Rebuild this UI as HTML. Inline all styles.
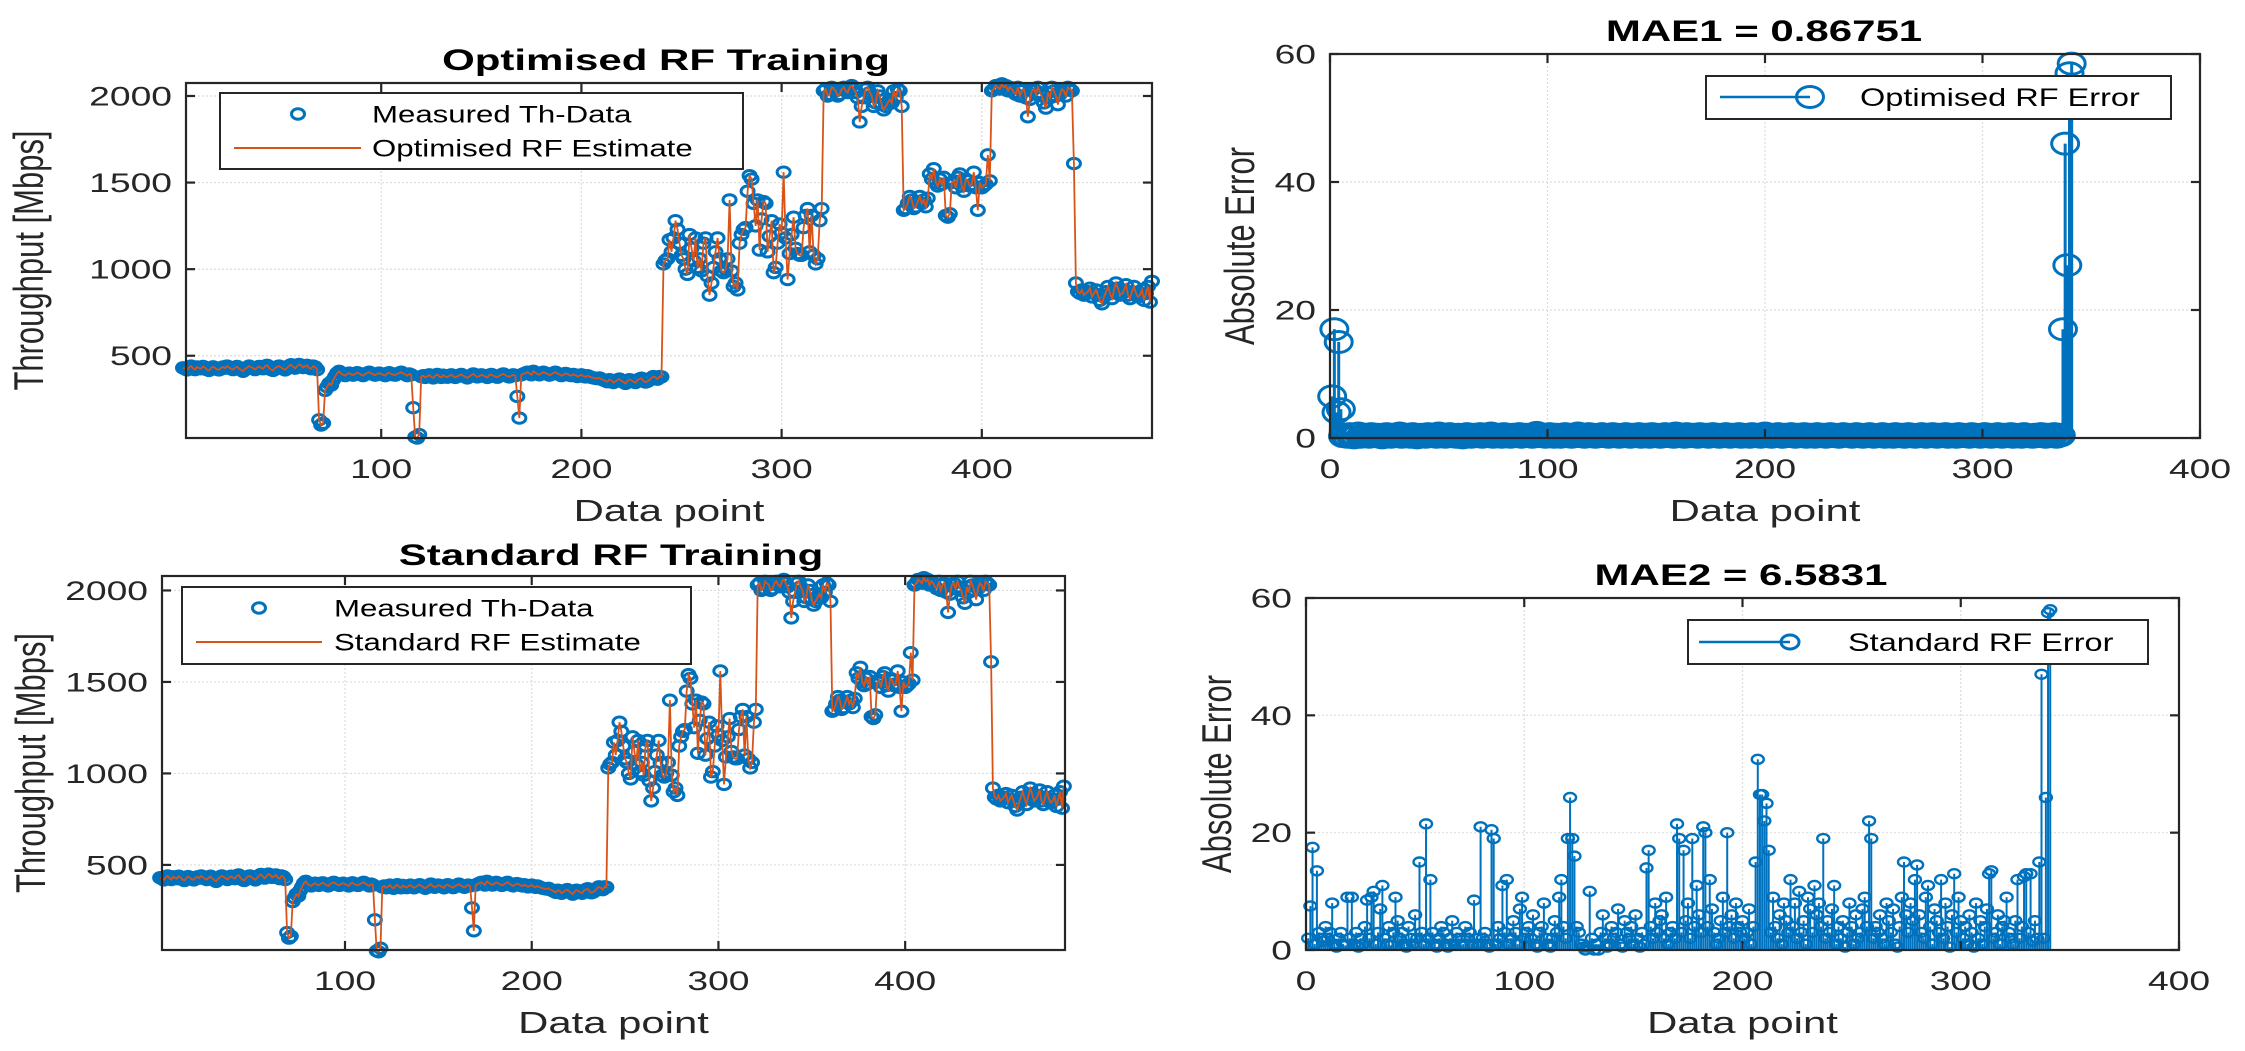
<!DOCTYPE html>
<html><head><meta charset="utf-8"><style>
html,body{margin:0;padding:0;background:#fff}
svg{display:block}
text{font-family:"Liberation Sans",Arial,sans-serif}
</style></head><body>
<svg id="fig" width="2245" height="1051" viewBox="0 0 2245 1051" xmlns="http://www.w3.org/2000/svg">
<rect width="2245" height="1051" fill="#fff"/>
</svg>
<script>
// ---- data ----
const measured = [
430,425,418,432,440,428,420,435,430,425,438,432,420,415,428,436,430,422,418,430,
435,428,440,432,425,420,430,438,426,418,410,425,432,440,435,428,420,432,438,430,
425,440,445,430,420,415,428,436,440,432,425,418,430,442,448,436,428,440,450,445,
432,438,445,430,425,440,435,420,
130,100,110,
300,320,340,330,360,380,400,410,395,
390,385,395,400,392,388,396,402,398,390,385,395,400,405,398,392,388,396,400,395,390,385,398,402,395,390,388,396,400,405,398,392,385,395,390,
200,30,25,45,380,
385,375,380,390,378,372,385,392,380,375,388,380,376,385,390,382,375,380,388,392,385,378,372,380,388,395,385,378,382,390,386,380,375,388,392,385,380,376,384,390,395,388,382,378,385,390,
385,265,140,390,
395,400,405,398,390,410,402,395,390,398,405,400,395,388,392,400,405,398,392,385,390,398,395,388,385,392,388,380,385,390,382,378,385,380,375,372,370,368,372,365,
360,355,350,362,358,345,352,360,365,355,348,340,355,362,358,350,345,360,365,370,355,348,352,360,372,380,375,365,380,378,
1030,1050,1060,1170,1100,1180,1280,1230,1150,1080,
1060,1000,970,1200,1120,1050,1180,1010,1060,990,
1150,1180,960,850,920,1010,1100,1180,1060,990,
980,1000,1060,1400,990,900,920,880,1150,1200,
1230,1240,1450,1540,1520,1380,1250,1400,1110,1290,
1390,1380,1100,1190,1280,980,1010,1150,1260,1210,
1560,1180,940,1090,1200,1300,1120,1090,1080,1080,
1240,1310,1350,1100,1310,1080,1030,1060,1280,1350,
2030,2040,2000,2010,2050,2040,2030,2000,2010,2040,2050,2030,2020,2050,2060,2040,2020,1990,1850,1940,1990,2040,2050,2020,2000,1940,1960,2030,2000,1950,1920,1940,1960,1980,1960,2030,1990,2040,2030,1940,
1340,1350,1380,1420,1400,1350,1360,1390,1420,1380,1400,1360,1410,1550,1520,1580,1500,1480,1520,1490,1530,1310,1300,1320,1500,1510,1470,1530,1550,1480,1450,1520,1510,1480,1490,1560,1470,1340,1500,1470,1480,1490,1660,1510,
2030,2040,2060,2050,2040,2070,2050,2060,2030,2050,2040,2020,2010,2050,2000,2030,2040,1990,1880,1980,2030,2040,2010,2050,2020,2000,1960,1930,2020,1990,2050,2030,2000,1950,2010,2040,2030,2000,2050,2040,2030,
1610,
920,870,860,880,850,860,870,890,840,860,880,850,820,800,840,870,900,860,830,880,920,890,850,860,880,910,850,830,870,900,860,840,850,880,820,860,900,810,930
];
const optErr = [
6.5,17,4,15,4.5,
0.3,0.5,0.2,0.6,0.4,0.1,0.3,0.7,0.2,0.4,0.5,0.3,0.2,0.6,0.4,0.3,0.5,0.2,0.1,0.4,
0.6,0.3,0.2,0.5,0.4,0.3,0.7,0.2,0.3,0.5,0.4,0.2,0.6,0.3,0.1,0.4,0.5,0.3,0.2,0.6,
0.4,0.3,0.5,0.2,0.7,0.4,0.3,0.2,0.5,0.6,0.3,0.4,0.2,0.5,0.3,0.1,0.4,0.6,0.3,0.2,
0.5,0.4,0.3,0.6,0.2,0.4,0.5,0.3,0.7,0.2,0.4,0.3,0.5,0.2,0.6,0.3,0.4,0.2,0.5,0.3,
0.4,0.6,0.2,0.3,0.5,0.4,0.3,0.2,0.6,0.8,0.3,0.4,0.5,0.2,0.3,0.6,0.4,0.2,0.5,0.3,
0.2,0.4,0.6,0.3,0.5,0.2,0.4,0.3,0.7,0.5,0.3,0.2,0.4,0.6,0.3,0.5,0.2,0.4,0.3,0.6,
0.5,0.3,0.2,0.4,0.6,0.3,0.5,0.2,0.4,0.3,0.6,0.4,0.2,0.5,0.3,0.4,0.6,0.2,0.3,0.5,
0.4,0.2,0.6,0.3,0.5,0.4,0.2,0.3,0.6,0.5,0.3,0.4,0.2,0.7,0.3,0.5,0.4,0.2,0.6,0.3,
0.3,0.5,0.4,0.2,0.6,0.3,0.4,0.5,0.2,0.3,0.6,0.4,0.5,0.2,0.3,0.4,0.6,0.3,0.2,0.5,
0.4,0.3,0.6,0.2,0.5,0.3,0.4,0.2,0.6,0.4,0.3,0.5,0.2,0.4,0.7,0.3,0.5,0.2,0.4,0.3,
0.6,0.4,0.2,0.5,0.3,0.4,0.6,0.3,0.2,0.5,0.4,0.3,0.6,0.2,0.4,0.5,0.3,0.2,0.6,0.4,
0.3,0.5,0.2,0.4,0.6,0.3,0.5,0.4,0.2,0.3,0.6,0.4,0.5,0.3,0.2,0.4,0.6,0.3,0.5,0.2,
0.4,0.3,0.6,0.5,0.2,0.4,0.3,0.5,0.6,0.2,0.4,0.3,0.5,0.2,0.6,0.4,0.3,0.5,0.2,0.4,
0.6,0.3,0.5,0.2,0.4,0.3,0.6,0.4,0.2,0.5,0.3,0.6,0.4,0.2,0.5,0.3,0.4,0.6,0.2,0.3,
0.5,0.4,0.2,0.6,0.3,0.5,0.4,0.3,0.2,0.6,0.4,0.5,0.3,0.2,0.4,0.6,0.3,0.5,0.2,0.4,
0.3,0.6,0.4,0.2,0.5,0.3,0.4,0.6,0.2,0.5,0.3,0.4,0.2,0.6,0.5,0.3,0.4,0.2,0.5,0.3,
0.4,0.6,0.3,0.2,0.5,0.4,0.3,0.6,0.2,0.5,0.4,
17,46,27,57,58.5
];
const stdErr = [
2,7.5,17.5,1,13.5,3,2,1.5,4,2,3,8,1,0.5,2,3,1,0.8,9,2,
9,1,3,0.5,2,1,4,8.5,2,9,10,1,3,7,11,2,1,4,0.8,3,
9,5,2,3,1,0.5,4,2,1,6,2,15,3,1,21.5,2,12,3,1,0.5,
2,4,3,1,0.5,2,5,1,3,2,0.8,1,4,2,3,1,8.5,2,1,21,
2,3,1,0.5,20.5,19,1,4,2,11,3,12,1,2,5,3,1,7,9,2,
3,4,2,6,1,0.5,3,4,8,2,1,0.5,2,5,3,9,12,4,2,19,
26,19,16,4,3,1,0.5,0,0.5,10,2,0,1,0,3,6,2,0.5,1,4,
2,3,7,1,0.5,5,3,2,4,1,6,2,0.5,3,1,14,17,4,2,8,
3,5,6,2,9,1,3,4,2,21.5,19,3,17,5,8,2,19,4,11,6,
3,21,20,4,12,7,3,1,2,5,9,3,20,4,6,2,8,4,3,5,
2,3,7,1,4,15,32.5,26.5,26.5,22,25,17,3,9,4,2,6,1,8,5,
3,12,4,8,2,10,3,5,1,9,7,3,11,6,8,4,19,2,5,3,
7,11,1,4,2,5,0.5,3,8,4,1,6,2,3,7,9,4,22,19,2,
4,3,6,2,1,8,5,3,7,1,0.5,4,9,15,6,3,8,5,12,14.5,
6,3,2,9,11,4,1,7,5,3,12,2,8,4,0.5,6,13,3,9,5,
2,4,1,6,3,0.5,8,2,5,1,4,7,13,13.5,2,3,6,1,4,5,
9,3,2,1,5,12,2,4,12.5,13,3,13,1.5,5,2,15,47,2,26,57.5,
58
];
const leftXTicks = [100,200,300,400];
const leftYTicks = [500,1000,1500,2000];
const rightXTicks = [0,100,200,300,400];
const rightYTicks = [0,20,40,60];

// ---- drawing ----
const NS = 'http://www.w3.org/2000/svg';
const svg = document.getElementById('fig');
const BLUE = '#0072BD', ORANGE = '#D95319';
function el(tag, attrs, parent) {
  const e = document.createElementNS(NS, tag);
  for (const k in attrs) e.setAttribute(k, attrs[k]);
  (parent || svg).appendChild(e);
  return e;
}
function stext(parent, str, x, y, size, sx, anchor, weight, color, rot) {
  const g = el('g', {transform: `translate(${x},${y}) scale(${sx},1)` + (rot ? ' rotate(-90)' : '')}, parent);
  const t = el('text', {x: 0, y: 0, 'font-size': size, 'text-anchor': anchor, fill: color, 'font-weight': weight}, g);
  if (rot) t.setAttribute('dominant-baseline', 'central');
  t.textContent = str;
  return g;
}
function makeAxes(name, A, xt, yt, title, ylabel) {
  const g = el('g', {});
  
  
  A.sx = v => A.l + (v - A.xmin) / (A.xmax - A.xmin) * (A.r - A.l);
  A.sy = v => A.b - (v - A.ymin) / (A.ymax - A.ymin) * (A.b - A.t);
  el('rect', {x: A.l, y: A.t, width: A.r - A.l, height: A.b - A.t, fill: '#fff'}, g);
  const grid = el('g', {stroke: '#dcdcdc', 'stroke-width': 1.2, 'stroke-dasharray': '2,2'}, g);
  
  
  xt.forEach(v => { const x = A.sx(v); if (x > A.l + 1 && x < A.r - 1) el('line', {x1: x, x2: x, y1: A.t, y2: A.b}, grid); });
  yt.forEach(v => { const y = A.sy(v); if (y > A.t + 1 && y < A.b - 1) el('line', {x1: A.l, x2: A.r, y1: y, y2: y}, grid); });
  const xl = el('g', {}, g);
  
  
  xt.forEach(v => stext(xl, String(v), A.sx(v), A.b + 40, 27, 1.38, 'middle', 'normal', '#262626'));
  const yl = el('g', {}, g);
  
  
  yt.forEach(v => stext(yl, String(v), A.l - 14, A.sy(v) + 9.5, 27, 1.38, 'end', 'normal', '#262626'));
  const xlab = stext(g, 'Data point', (A.l + A.r) / 2, A.b + 83, 31, 1.35, 'middle', 'normal', '#262626');
  
  
  const ylab = stext(g, ylabel, A.ylx, (A.t + A.b) / 2, 31, 1.35, 'middle', 'normal', '#262626', true);
  
  
  const tt = stext(g, title, A.tx, A.ty, 30, 1.4, 'middle', 'bold', '#000');
  
  
  const plot = el('g', {}, g);
  
  
  A.plot = plot;
  A.g = g;
  return A;
}
function finishAxes(A, xt, yt) {
  const fr = el('g', {stroke: '#262626', 'stroke-width': 2.2, fill: 'none'}, A.g);
  
  
  el('rect', {x: A.l, y: A.t, width: A.r - A.l, height: A.b - A.t}, fr);
  xt.forEach(v => { const x = A.sx(v); el('line', {x1: x, x2: x, y1: A.b, y2: A.b - 9}, fr); el('line', {x1: x, x2: x, y1: A.t, y2: A.t + 9}, fr); });
  yt.forEach(v => { const y = A.sy(v); el('line', {x1: A.l, x2: A.l + 9, y1: y, y2: y}, fr); el('line', {x1: A.r, x2: A.r - 9, y1: y, y2: y}, fr); });
}
function clip(A, id) {
  const cp = el('clipPath', {id: id});
  el('rect', {x: A.l - 12, y: A.t - 12, width: A.r - A.l + 24, height: A.b - A.t + 24}, cp);
  A.plot.setAttribute('clip-path', `url(#${id})`);
}
function drawTrain(A, estName) {
  clip(A, 'c' + Math.round(A.l));
  const mk = el('g', {fill: 'none', stroke: BLUE, 'stroke-width': 3}, A.plot);
  
  
  measured.forEach((v, i) => {
    const c = el('ellipse', {cx: A.sx(i + 1), cy: A.sy(v), rx: 6.5, ry: 5.2}, mk);
    
    
  });
  const pts = measured.map((v, i) => A.sx(i + 1).toFixed(1) + ',' + A.sy(v).toFixed(1)).join(' ');
  const ln = el('polyline', {points: pts, fill: 'none', stroke: ORANGE, 'stroke-width': 1.8}, A.plot);
  
  
}
function drawStem(A, data, rx, ry, sw, mw, bname) {
  const sg = el('g', {stroke: BLUE, 'stroke-width': sw, fill: 'none'}, A.plot);
  
  
  data.forEach((v, i) => {
    const x = A.sx(i + 1);
    el('line', {x1: x, x2: x, y1: A.sy(0), y2: A.sy(v)}, sg);
  });
  data.forEach((v, i) => {
    const c = el('ellipse', {cx: A.sx(i + 1), cy: A.sy(v), rx: rx, ry: ry, 'stroke-width': mw}, sg);
    
    
  });
}
function legendTrain(L, estLabel) {
  const g = el('g', {});
  
  
  el('rect', {x: L.l, y: L.t, width: L.w, height: L.h, fill: '#fff', stroke: '#262626', 'stroke-width': 2}, g);
  el('ellipse', {cx: L.mx, cy: L.y1, rx: 6.5, ry: 5.2, fill: 'none', stroke: BLUE, 'stroke-width': 3}, g);
  el('line', {x1: L.lx1, x2: L.lx2, y1: L.y2, y2: L.y2, stroke: ORANGE, 'stroke-width': 2}, g);
  const a = stext(g, 'Measured Th-Data', L.tx, L.y1 + 8.5, 24, 1.3, 'start', 'normal', '#000');
  
  
  const b = stext(g, estLabel, L.tx, L.y2 + 8.5, 24, 1.3, 'start', 'normal', '#000');
  
  
}
function legendErr(L, label, rx, ry) {
  const g = el('g', {});
  
  
  el('rect', {x: L.l, y: L.t, width: L.w, height: L.h, fill: '#fff', stroke: '#262626', 'stroke-width': 2}, g);
  el('line', {x1: L.lx1, x2: L.mx, y1: L.y, y2: L.y, stroke: BLUE, 'stroke-width': 2.5}, g);
  el('ellipse', {cx: L.mx, cy: L.y, rx: rx, ry: ry, fill: 'none', stroke: BLUE, 'stroke-width': 3}, g);
  const a = stext(g, label, L.tx, L.y + 9, 25, 1.3, 'start', 'normal', '#000');
  
  
}

// top-left
const A1 = makeAxes('optimised-training-chart', {l:186,r:1152,t:83,b:438,xmin:2.5,xmax:485,ymin:25,ymax:2075,ylx:29,tx:666,ty:70}, leftXTicks, leftYTicks, 'Optimised RF Training', 'Throughput [Mbps]');
drawTrain(A1, 'optimised-rf-estimate-line');
finishAxes(A1, leftXTicks, leftYTicks);
legendTrain({l:220,t:93,w:523,h:76,mx:298,y1:114,lx1:234,lx2:361,y2:148,tx:372}, 'Optimised RF Estimate');

// bottom-left
const A2 = makeAxes('standard-training-chart', {l:162,r:1065,t:576,b:950,xmin:2,xmax:485.6,ymin:35,ymax:2079,ylx:31,tx:611,ty:565}, leftXTicks, leftYTicks, 'Standard RF Training', 'Throughput [Mbps]');
drawTrain(A2, 'standard-rf-estimate-line');
finishAxes(A2, leftXTicks, leftYTicks);
legendTrain({l:182,t:587,w:509,h:77,mx:259,y1:608,lx1:196,lx2:322,y2:642,tx:334}, 'Standard RF Estimate');

// top-right
const A3 = makeAxes('optimised-error-chart', {l:1330,r:2200,t:54,b:438,xmin:0,xmax:400,ymin:0,ymax:60,ylx:1240,tx:1764,ty:41}, rightXTicks, rightYTicks, 'MAE1 = 0.86751', 'Absolute Error');
drawStem(A3, optErr, 13.5, 10.5, 3, 3, 'optimised-error-stems');
el('line', {x1: A3.l, x2: A3.r, y1: A3.sy(0), y2: A3.sy(0), stroke: '#262626', 'stroke-width': 2}, A3.plot);
finishAxes(A3, rightXTicks, rightYTicks);
legendErr({l:1706,t:76,w:465,h:43,lx1:1720,mx:1810,y:97,tx:1860}, 'Optimised RF Error', 13.5, 10.5);

// bottom-right
const A4 = makeAxes('standard-error-chart', {l:1306,r:2179,t:598,b:950,xmin:0,xmax:400,ymin:0,ymax:60,ylx:1217,tx:1741,ty:585}, rightXTicks, rightYTicks, 'MAE2 = 6.5831', 'Absolute Error');
drawStem(A4, stdErr, 6, 4.5, 2, 2.4, 'standard-error-stems');
finishAxes(A4, rightXTicks, rightYTicks);
legendErr({l:1688,t:620,w:460,h:44,lx1:1699,mx:1790,y:642,tx:1848}, 'Standard RF Error', 9, 7);
</script>
</body></html>
